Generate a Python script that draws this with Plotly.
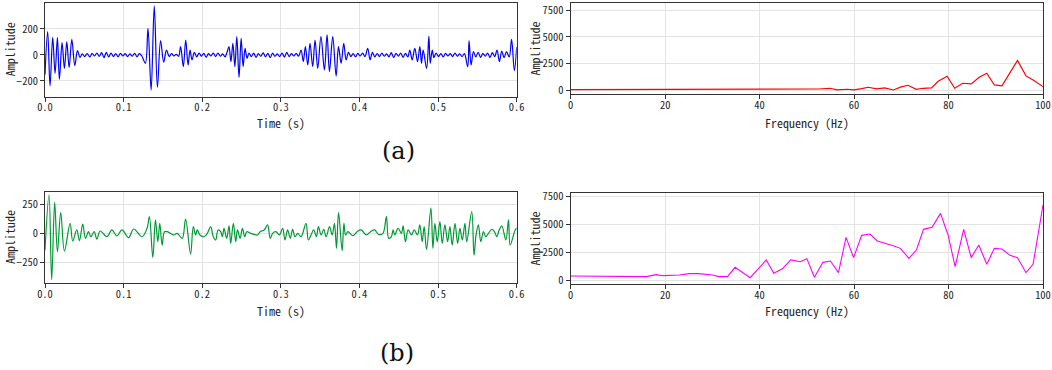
import plotly.graph_objects as go

# ---------------- data ----------------
# (a) time-domain signal (blue): times of extrema [s] and amplitudes
t_a = [0.000, 0.0034, 0.0064, 0.0098, 0.0128, 0.0158, 0.0183, 0.0217, 0.0247, 0.0277, 0.0307, 0.0341, 0.0379, 0.0413,
       0.0445, 0.0475, 0.0505, 0.0535, 0.057, 0.060, 0.063, 0.066, 0.069, 0.072, 0.075, 0.078, 0.081, 0.084, 0.087,
       0.090, 0.093, 0.096, 0.099, 0.102, 0.105, 0.108, 0.111, 0.114, 0.117, 0.120, 0.123,
       0.1277, 0.131, 0.135, 0.139, 0.143, 0.147, 0.151, 0.1545, 0.158, 0.161, 0.164, 0.167, 0.170,
       0.1725, 0.176, 0.179, 0.182, 0.1845, 0.187, 0.190,
       0.193, 0.196, 0.199, 0.202, 0.205, 0.208, 0.211, 0.214, 0.217, 0.220, 0.223, 0.226, 0.229, 0.2315,
       0.234, 0.2365, 0.239, 0.2415, 0.244, 0.2468, 0.2495, 0.252, 0.2545, 0.257, 0.2595,
       0.2625, 0.2655, 0.2685, 0.2715, 0.2745, 0.2775, 0.2805, 0.2835, 0.2865, 0.2895, 0.2925, 0.2955, 0.2985,
       0.3015, 0.3045, 0.3075, 0.3105, 0.3135, 0.3165, 0.3195, 0.3225,
       0.3257, 0.3286, 0.3312, 0.3342, 0.3371, 0.3405, 0.3435, 0.3469, 0.351, 0.3554, 0.3588, 0.3618, 0.366,
       0.3703, 0.3733, 0.3767, 0.380, 0.383, 0.386,
       0.389, 0.392, 0.395, 0.398, 0.401, 0.404, 0.407, 0.4105, 0.4135, 0.4165, 0.4195, 0.4225, 0.4255, 0.4285,
       0.4315, 0.4345, 0.4375, 0.4405, 0.4435, 0.4465, 0.4495, 0.4525, 0.4555, 0.4585,
       0.4615, 0.464, 0.467, 0.4704, 0.4738, 0.4768, 0.4789, 0.481, 0.4854, 0.4883, 0.490, 0.4926, 0.4947,
       0.4975, 0.5005, 0.5035, 0.5065, 0.5095, 0.5125, 0.5155, 0.5185, 0.5215, 0.5245, 0.5275, 0.5305, 0.5335,
       0.5377, 0.5394, 0.542, 0.545,
       0.548, 0.551, 0.554, 0.557, 0.560, 0.563, 0.566, 0.569, 0.572, 0.575, 0.578, 0.581, 0.584, 0.587, 0.5905,
       0.5935, 0.597, 0.600]
amp_a = [-150, 180, -238, 136, -141, 133, -187, 95, -103, 100, -97, 120, -82, 33,
         -18, 8, -12, 10, -15, 12, -8, 15, -10, 18, -20, 20, -15, 15, -12,
         10, -14, 12, -8, 10, -12, 8, -10, 12, -14, 10, -6,
         -64, 205, -270, 377, -249, 110, -56, 38, -12, 10, -8, 5, -10,
         64, -90, 115, -77, 38, -38, 20,
         -15, 15, -10, 12, -18, 10, -8, 14, -12, 15, -10, 8, -15, 20,
         64, -51, 90, -90, 141, -172, 128, -90, 51, -26, 15,
         -12, 14, -18, 10, -10, 16, -14, 12, -20, 14, -10, 8, -12,
         15, -16, 20, -12, 10, -8, 12, -10,
         38, -51, 64, -77, 90, -90, 115, -103, 141, -115, 154, -128, 141,
         -162, 64, -64, 90, -38, 20,
         -12, 10, -15, 12, -8, 14, -12, 51, -38, 20, -15, 10, -12, 15,
         -10, 8, -14, 18, -20, 12, -10, 15, -18, 12,
         -15, 38, -38, 51, -51, 64, -64, 38, -103, 146, -64, 38, -20,
         15, -12, 10, -15, 12, -8, 10, -12, 15, -10, 8, -12, 10,
         -90, 110, -77, 26,
         -15, 20, -18, 12, -10, 15, -20, 18, -12, 38, -51, 30, -20, 25, -15,
         120, -120, 60]

# (b) time-domain signal (green)
t_b = [0.000, 0.0051, 0.0085, 0.0123, 0.0158, 0.020, 0.0247, 0.0319, 0.0353, 0.0404, 0.0438, 0.048, 0.0515,
       0.0553, 0.0583, 0.0626, 0.066, 0.0702, 0.0787, 0.0851, 0.0915, 0.0979, 0.1064, 0.1128, 0.1234,
       0.1298, 0.1328, 0.1371, 0.1405, 0.1435, 0.146, 0.149, 0.152, 0.1554, 0.1596, 0.1639, 0.1681,
       0.1746, 0.1788, 0.1852, 0.1886, 0.1916, 0.1937, 0.1971, 0.2022, 0.2065, 0.2107, 0.2141, 0.2171, 0.2201,
       0.2235, 0.2256, 0.2277, 0.2311, 0.2341, 0.2362, 0.2396, 0.2426, 0.2448, 0.2482, 0.2511, 0.2541, 0.2567,
       0.2618, 0.2703, 0.2737, 0.2788, 0.2831, 0.2865, 0.2895, 0.2937, 0.298, 0.3023, 0.3052, 0.3086, 0.312,
       0.315, 0.318, 0.3214, 0.3257, 0.332, 0.335, 0.3384, 0.3418, 0.3452, 0.3478, 0.3512, 0.3546, 0.3576,
       0.3619, 0.3653, 0.3682, 0.3708, 0.3734, 0.378, 0.3802, 0.3823, 0.3853,
       0.3917, 0.398, 0.4023, 0.4087, 0.4142, 0.4193, 0.4244, 0.4299,
       0.4343, 0.4372, 0.4406, 0.4428, 0.4449, 0.4491, 0.4534, 0.4555, 0.4585, 0.4619, 0.4662, 0.4696, 0.4738,
       0.4768, 0.4798, 0.4823, 0.4853, 0.4909, 0.4934, 0.4959, 0.4989, 0.5023, 0.5053, 0.5087, 0.5121, 0.515,
       0.518, 0.5215, 0.5249, 0.5278, 0.5308, 0.5342, 0.5364, 0.5428, 0.5457, 0.5483, 0.5513, 0.5543, 0.5577,
       0.5607, 0.5641, 0.5683, 0.5717, 0.5747, 0.5777, 0.5811, 0.5862, 0.5896, 0.5917, 0.5981, 0.600]
amp_b = [-144, 330, -397, 267, -158, 178, -152, 86, -66, 29, -63, 78, -43,
         14, -29, 14, -49, 20, -29, 29, -23, 29, -37, 37, -29,
         43, 144, -207, 115, -72, 86, -100, 14, 14, 0, -14, 0,
         -43, 121, -178, 57, -14, 29, -14, -29, 0, 57, -29, -57, 29,
         14, -29, 43, -43, 63, -86, 86, -72, 29, -43, 43, -29, 14,
         0, -14, 14, 29, 72, -43, 0, 14, -14, 43, -57, 29, -43,
         35, -29, 0, -29, 86, -57, -14, 29, -29, 57, -14, 35, -29,
         57, -14, 86, -129, 178, -150, 86, -14, 14,
         -20, 20, 29, -14, 14, 29, -10, 0,
         144, -43, -29, 29, -14, 43, 0, 63, -72, 29, -14, 29, -14,
         72, -72, 57, -138, 216, -129, 86, -72, 100, -86, 72, -72, 57,
         -100, 86, -86, 43, -57, 86, -72, 187, -187, -14, 72, -72, 14,
         -29, 0, 35, 14, -29, 29, 63, -57, 115, -100, 29, 43]

# (a) spectrum (red)
f_a = [0, 10, 20, 30, 40, 45, 50, 52.5, 54.9, 56.4, 58.5, 60, 61.6, 63.0, 64.8, 66.5, 68.3, 70.0, 71.4, 73.2,
       74.6, 76.4, 77.8, 79.7, 81.3, 83.0, 84.8, 86.5, 88.1, 89.7, 91.3, 94.6, 96.4, 97.9, 100]
spec_a = [60, 70, 70, 80, 90, 100, 110, 120, 190, 40, 100, 40, 160, 283, 130, 220, 30, 315, 470, 94,
          190, 220, 850, 1320, 190, 660, 600, 1230, 1600, 500, 410, 2800, 1350, 975, 345]

# (b) spectrum (magenta)
f_b = [0, 5, 10, 16, 18.1, 19.5, 23, 25.1, 27, 30, 31.4, 33.2, 34.8, 38, 41.4, 43, 44.8, 46.6, 48.6, 50.0,
       51.6, 53.4, 55.0, 56.7, 58.3, 59.9, 61.6, 63.4, 64.9, 66.7, 68.3, 69.8, 71.6, 73.2, 74.7, 76.5, 78.3,
       79.9, 81.4, 83.2, 84.8, 86.4, 88.1, 89.7, 91.3, 93.0, 94.6, 96.4, 97.9, 100]
spec_b = [357, 357, 357, 300, 476, 387, 446, 565, 565, 446, 300, 300, 1130, 208, 1786, 595, 1000, 1800, 1637, 1905,
          238, 1577, 1696, 655, 3810, 1994, 3988, 4107, 3482, 3274, 3065, 2827, 1934, 2678, 4523, 4702, 5952,
          4018, 1190, 4523, 1994, 3125, 1399, 2827, 2768, 2202, 1994, 655, 1399, 6696]

time_ticks = [0.0, 0.1, 0.2, 0.3, 0.4, 0.5, 0.6]
freq_ticks = [0, 20, 40, 60, 80, 100]
amp_ticks_a = [-200, 0, 200]
amp_ticks_b = [-250, 0, 250]
spec_ticks = [0, 2500, 5000, 7500]

# ---------------- figure ----------------
W, H = 1052, 370
def fx(x):
    return x / W
def fy(y):
    return 1 - y / H

fig = go.Figure()
fig.add_trace(go.Scatter(x=t_a, y=amp_a, mode='lines', xaxis='x', yaxis='y',
                         line=dict(color='#0000ff', width=1.2, shape='spline')))
fig.add_trace(go.Scatter(x=f_a, y=spec_a, mode='lines', xaxis='x2', yaxis='y2',
                         line=dict(color='#ff0000', width=1.2)))
fig.add_trace(go.Scatter(x=t_b, y=amp_b, mode='lines', xaxis='x3', yaxis='y3',
                         line=dict(color='#009a35', width=1.2, shape='spline')))
fig.add_trace(go.Scatter(x=f_b, y=spec_b, mode='lines', xaxis='x4', yaxis='y4',
                         line=dict(color='#ff00ff', width=1.1)))

MONO = 'Noto Sans Mono CJK SC, Noto Sans CJK SC, DejaVu Sans Mono, monospace'
tick_font = dict(family=MONO, size=10.5, color='#262626')
common = dict(showline=True, mirror=True, linecolor='#333333', linewidth=1,
              ticks='outside', ticklen=4, tickwidth=1, tickcolor='#333333',
              showgrid=True, gridcolor='#e3e3e3', gridwidth=1, zeroline=False,
              tickfont=tick_font, automargin=False, ticklabeloverflow='allow')
xcommon = dict(common, ticklabelstandoff=-3)

L_dom = [fx(45), fx(516.7)]
R_dom = [fx(570.7), fx(1043)]

fig.update_layout(
    width=W, height=H, margin=dict(l=0, r=0, t=0, b=0, pad=0, autoexpand=False),
    paper_bgcolor='white', plot_bgcolor='white', showlegend=False,
    xaxis=dict(domain=L_dom, anchor='y', range=[0, 0.6], tickvals=time_ticks, tickformat='.1f', **xcommon),
    yaxis=dict(domain=[fy(96.7), fy(2.7)], anchor='x', range=[-321, 402], tickvals=amp_ticks_a, **common),
    xaxis2=dict(domain=R_dom, anchor='y2', range=[0, 100], tickvals=freq_ticks, **xcommon),
    yaxis2=dict(domain=[fy(94.3), fy(2.7)], anchor='x2', range=[-375, 8215], tickvals=spec_ticks, **common),
    xaxis3=dict(domain=L_dom, anchor='y3', range=[0, 0.6], tickvals=time_ticks, tickformat='.1f', **xcommon),
    yaxis3=dict(domain=[fy(283.3), fy(192)], anchor='x3', range=[-428, 354], tickvals=amp_ticks_b, **common),
    xaxis4=dict(domain=R_dom, anchor='y4', range=[0, 100], tickvals=freq_ticks, **xcommon),
    yaxis4=dict(domain=[fy(284.3), fy(192.7)], anchor='x4', range=[-384, 7795], tickvals=spec_ticks, **common),
)

lab_font = dict(family=MONO, size=12, color='#262626')
def label(text, x, y, angle=0, font=lab_font):
    fig.add_annotation(text=text, x=fx(x), y=fy(y), xref='paper', yref='paper',
                       xanchor='center', yanchor='middle', showarrow=False,
                       textangle=angle, font=font)

label('Time (s)', 281, 122.5)
label('Time (s)', 281, 310.5)
label('Frequency (Hz)', 807, 122.5)
label('Frequency (Hz)', 807, 310.5)
label('Amplitude', 9.5, 49.7, -90)
label('Amplitude', 534, 48.5, -90)
label('Amplitude', 9.5, 237.6, -90)
label('Amplitude', 534, 238.5, -90)

serif = dict(family='DejaVu Serif', size=24, color='#111111')
label('(a)', 398, 151, font=serif)
label('(b)', 397, 353, font=serif)

fig.write_html('out.html', config={'displayModeBar': False})

# remove the browser's default page margin so the figure fills the window exactly
with open('out.html', encoding='utf-8') as fh:
    html = fh.read()
html = html.replace('<head>', '<head><style>html,body{margin:0;padding:0;overflow:hidden;}</style>', 1)
with open('out.html', 'w', encoding='utf-8') as fh:
    fh.write(html)
